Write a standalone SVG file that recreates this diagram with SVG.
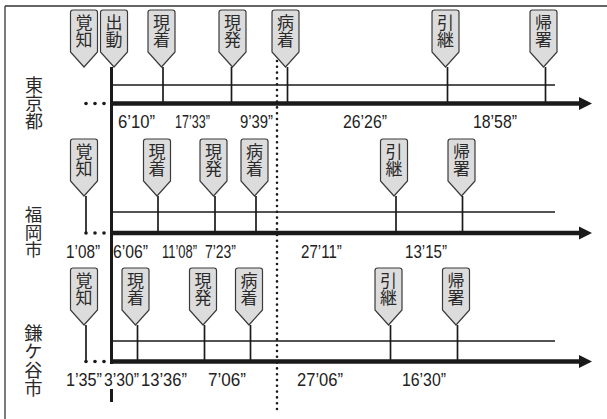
<svg xmlns="http://www.w3.org/2000/svg" width="607" height="419" viewBox="0 0 607 419">
<style>
.frame{stroke:#333;stroke-width:1.3;fill:none}
.thin{stroke:#1a1a1a;stroke-width:1.6;fill:none}
.thick{stroke:#1a1a1a;stroke-width:4.5;fill:none}
.vmain{stroke:#1a1a1a;stroke-width:3;fill:none}
.tick{stroke:#1a1a1a;stroke-width:1.7;fill:none}
.dotline{stroke:#1a1a1a;stroke-width:2.6;stroke-linecap:round;stroke-dasharray:0 5.8;fill:none}
.dot{fill:#1a1a1a}
.tagshape{fill:#dcdcdc;stroke:#3a3a3a;stroke-width:1.2}
.tagtxt{font-family:"Noto Sans CJK JP","Noto Sans CJK SC",sans-serif;font-size:17px;fill:#2a2a2a;writing-mode:vertical-rl}
.rowlbl{font-family:"Noto Sans CJK JP","Noto Sans CJK SC",sans-serif;font-size:18px;fill:#2a2a2a;writing-mode:vertical-rl}
.tm{font-family:"Liberation Sans",Arial,sans-serif;font-size:18px;fill:#222}
</style>
<defs>
<path id="tag" class="tagshape" d="M-13.5,2.5 Q-13.5,0 -11,0 H11 Q13.5,0 13.5,2.5 V42 L0,57 L-13.5,42 Z"/>
<polygon id="ah" class="dot" points="0,-6.5 13,0 0,6.5"/>
</defs>

<g id="frame">
<line class="frame" x1="5" y1="6" x2="607" y2="6"/>
<line class="frame" x1="5" y1="6" x2="5" y2="419"/>
</g>

<g id="connectors">
<line class="vmain" x1="111.5" y1="67" x2="111.5" y2="364"/>
<line class="vmain" x1="111.5" y1="389" x2="111.5" y2="402"/>
<line class="dotline" x1="277" y1="61" x2="277" y2="413"/>
<!-- row 1 -->
<line class="thin" x1="111" y1="85" x2="555" y2="85"/>
<line class="thick" x1="110" y1="103.5" x2="580" y2="103.5"/>
<use href="#ah" x="579" y="103.5"/>
<circle class="dot" cx="86" cy="103.5" r="1.8"/><circle class="dot" cx="95" cy="103.5" r="1.8"/><circle class="dot" cx="104" cy="103.5" r="1.8"/>
<line class="tick" x1="163" y1="67" x2="163" y2="103"/>
<line class="tick" x1="231.5" y1="67" x2="231.5" y2="103"/>
<line class="tick" x1="287.5" y1="67" x2="287.5" y2="103"/>
<line class="tick" x1="447.5" y1="67" x2="447.5" y2="103"/>
<line class="tick" x1="545.5" y1="67" x2="545.5" y2="103"/>
<!-- row 2 -->
<line class="thin" x1="111" y1="212" x2="555" y2="212"/>
<line class="thick" x1="110" y1="233" x2="580" y2="233"/>
<use href="#ah" x="579" y="233"/>
<circle class="dot" cx="86" cy="233" r="1.8"/><circle class="dot" cx="95" cy="233" r="1.8"/><circle class="dot" cx="104" cy="233" r="1.8"/>
<line class="tick" x1="86" y1="196" x2="86" y2="233"/>
<line class="tick" x1="158" y1="196" x2="158" y2="232"/>
<line class="tick" x1="215" y1="196" x2="215" y2="232"/>
<line class="tick" x1="256" y1="196" x2="256" y2="232"/>
<line class="tick" x1="396" y1="196" x2="396" y2="232"/>
<line class="tick" x1="462.5" y1="196" x2="462.5" y2="232"/>
<!-- row 3 -->
<line class="thin" x1="111" y1="341" x2="555" y2="341"/>
<line class="thick" x1="110" y1="361.5" x2="580" y2="361.5"/>
<use href="#ah" x="579" y="361.5"/>
<circle class="dot" cx="86" cy="361.5" r="1.8"/><circle class="dot" cx="95" cy="361.5" r="1.8"/><circle class="dot" cx="104" cy="361.5" r="1.8"/>
<line class="tick" x1="86" y1="325" x2="86" y2="361.5"/>
<line class="tick" x1="137.5" y1="325" x2="137.5" y2="361"/>
<line class="tick" x1="204.5" y1="325" x2="204.5" y2="361"/>
<line class="tick" x1="250.5" y1="325" x2="250.5" y2="361"/>
<line class="tick" x1="390.5" y1="325" x2="390.5" y2="361"/>
<line class="tick" x1="457.5" y1="325" x2="457.5" y2="361"/>
</g>

<!-- Row 1 tags -->
<g id="r1-kakuchi" transform="translate(84,10)"><use href="#tag"/><text class="tagtxt" x="0" y="4">覚知</text></g>
<g id="r1-shutsudo" transform="translate(114,10)"><use href="#tag"/><text class="tagtxt" x="0" y="4">出動</text></g>
<g id="r1-genchaku" transform="translate(161.5,10)"><use href="#tag"/><text class="tagtxt" x="0" y="4">現着</text></g>
<g id="r1-genpatsu" transform="translate(232.5,10)"><use href="#tag"/><text class="tagtxt" x="0" y="4">現発</text></g>
<g id="r1-byochaku" transform="translate(285.5,10)"><use href="#tag"/><text class="tagtxt" x="0" y="4">病着</text></g>
<g id="r1-hikitsugi" transform="translate(445.5,10)"><use href="#tag"/><text class="tagtxt" x="0" y="4">引継</text></g>
<g id="r1-kisho" transform="translate(543.5,10)"><use href="#tag"/><text class="tagtxt" x="0" y="4">帰署</text></g>

<!-- Row 2 tags -->
<g id="r2-kakuchi" transform="translate(84,139)"><use href="#tag"/><text class="tagtxt" x="0" y="4">覚知</text></g>
<g id="r2-genchaku" transform="translate(157,139)"><use href="#tag"/><text class="tagtxt" x="0" y="4">現着</text></g>
<g id="r2-genpatsu" transform="translate(213.5,139)"><use href="#tag"/><text class="tagtxt" x="0" y="4">現発</text></g>
<g id="r2-byochaku" transform="translate(254.5,139)"><use href="#tag"/><text class="tagtxt" x="0" y="4">病着</text></g>
<g id="r2-hikitsugi" transform="translate(394,139)"><use href="#tag"/><text class="tagtxt" x="0" y="4">引継</text></g>
<g id="r2-kisho" transform="translate(461.5,139)"><use href="#tag"/><text class="tagtxt" x="0" y="4">帰署</text></g>

<!-- Row 3 tags -->
<g id="r3-kakuchi" transform="translate(84,268)"><use href="#tag"/><text class="tagtxt" x="0" y="4">覚知</text></g>
<g id="r3-genchaku" transform="translate(135.5,268)"><use href="#tag"/><text class="tagtxt" x="0" y="4">現着</text></g>
<g id="r3-genpatsu" transform="translate(203,268)"><use href="#tag"/><text class="tagtxt" x="0" y="4">現発</text></g>
<g id="r3-byochaku" transform="translate(249,268)"><use href="#tag"/><text class="tagtxt" x="0" y="4">病着</text></g>
<g id="r3-hikitsugi" transform="translate(388.5,268)"><use href="#tag"/><text class="tagtxt" x="0" y="4">引継</text></g>
<g id="r3-kisho" transform="translate(456,268)"><use href="#tag"/><text class="tagtxt" x="0" y="4">帰署</text></g>

<!-- Row labels -->
<g id="lbl-tokyo"><text class="rowlbl" x="34" y="76">東京都</text></g>
<g id="lbl-fukuoka"><text class="rowlbl" x="33.5" y="206" style="font-size:17.5px">福岡市</text></g>
<g id="lbl-kamagaya"><text class="rowlbl" x="33.5" y="324" style="font-size:18.3px">鎌ケ谷市</text></g>

<!-- Time labels -->
<g id="times-tokyo">
<text class="tm" transform="translate(118,128) scale(0.925,1)">6’10”</text>
<text class="tm" transform="translate(175,128) scale(0.7,1)">17’33”</text>
<text class="tm" transform="translate(240,128) scale(0.825,1)">9’39”</text>
<text class="tm" transform="translate(343,128) scale(0.88,1)">26’26”</text>
<text class="tm" transform="translate(473,128) scale(0.88,1)">18’58”</text>
</g>
<g id="times-fukuoka">
<text class="tm" transform="translate(66,258) scale(0.85,1)">1’08”</text>
<text class="tm" transform="translate(113,258) scale(0.875,1)">6’06”</text>
<text class="tm" transform="translate(162,258) scale(0.72,1)">11’08”</text>
<text class="tm" transform="translate(205,258) scale(0.775,1)">7’23”</text>
<text class="tm" transform="translate(301,258) scale(0.84,1)">27’11”</text>
<text class="tm" transform="translate(405,258) scale(0.84,1)">13’15”</text>
</g>
<g id="times-kamagaya">
<text class="tm" transform="translate(66,386) scale(0.9,1)">1’35”</text>
<text class="tm" transform="translate(104,386) scale(0.875,1)">3’30”</text>
<text class="tm" transform="translate(141,386) scale(0.92,1)">13’36”</text>
<text class="tm" transform="translate(208,386) scale(0.95,1)">7’06”</text>
<text class="tm" transform="translate(297,386) scale(0.92,1)">27’06”</text>
<text class="tm" transform="translate(402,386) scale(0.88,1)">16’30”</text>
</g>
</svg>
